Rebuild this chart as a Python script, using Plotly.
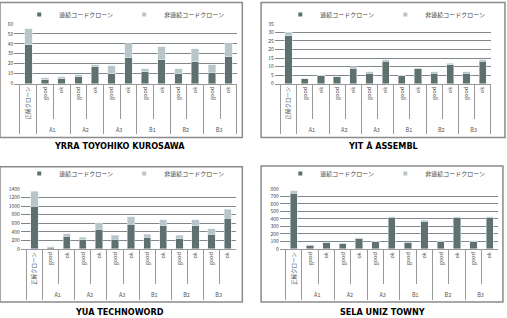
import plotly.graph_objects as go

groups = [" ", "A1", "A1", "A2", "A2", "A3", "A3", "B1", "B1", "B2", "B2", "B3", "B3"]
cats = ["正解クローン", "good", "ok", "good", "ok", "good", "ok", "good", "ok", "good", "ok", "good", "ok"]

series_names = ["連続コードクローン", "非連続コードクローン"]

# panel (a)
cont_a = [39, 4, 5, 7, 17, 10, 26, 12, 24, 10, 22, 11, 27]
total_a = [55, 6, 7, 9, 19, 18, 40, 15, 37, 15, 35, 19, 41]
# panel (b)
cont_b = [28, 3, 5, 4, 9, 6, 13, 5, 9, 6, 11, 6, 13]
total_b = [30, 3, 5, 4, 10, 7, 14, 5, 9, 7, 12, 7, 14]
# panel (c)
cont_c = [990, 45, 300, 215, 460, 223, 577, 277, 538, 238, 546, 346, 715]
total_c = [1340, 55, 360, 277, 608, 315, 746, 346, 685, 315, 685, 477, 930]
# panel (d)
cont_d = [743, 53, 84, 75, 136, 101, 422, 84, 369, 105, 418, 105, 422]
total_d = [774, 55, 88, 78, 150, 105, 430, 90, 382, 108, 426, 108, 430]

titles = ["YRRA TOYOHIKO KUROSAWA", "YIT Å ASSEMBL", "YUA TECHNOWORD", "SELA UNIZ TOWNY"]
y_ranges = [[0, 60], [0, 35], [0, 1400], [0, 800]]
y_dticks = [10, 5, 200, 100]

DARK = "#5f716e"
LIGHT = "#b8c6ca"
GRID = "#7f8a88"

panels = [(cont_a, total_a), (cont_b, total_b), (cont_c, total_c), (cont_d, total_d)]

# layout geometry (paper fractions)
x_domains = [[0.028, 0.467], [0.542, 0.968], [0.041, 0.465], [0.552, 0.982]]
y_domains = [[0.737, 0.925], [0.737, 0.925], [0.217, 0.406], [0.217, 0.406]]
legend_pos = [(0.245, 1.0), (0.76, 1.0), (0.245, 0.5), (0.76, 0.5)]
boxes = [(0.0, 0.478, 0.568, 0.992), (0.515, 0.996, 0.568, 0.992),
         (0.0, 0.478, 0.05, 0.476), (0.515, 0.992, 0.05, 0.478)]
title_pos = [(0.235, 0.541), (0.755, 0.541), (0.235, 0.02), (0.755, 0.02)]

fig = go.Figure()
x = [groups, cats]
for i, (cont, total) in enumerate(panels):
    noncont = [t - c for t, c in zip(total, cont)]
    sfx = "" if i == 0 else str(i + 1)
    leg = "legend" if i == 0 else f"legend{i + 1}"
    fig.add_trace(go.Bar(x=x, y=cont, name=series_names[0], marker_color=DARK,
                         xaxis="x" + sfx, yaxis="y" + sfx, showlegend=False))
    fig.add_trace(go.Bar(x=x, y=noncont, name=series_names[1], marker_color=LIGHT,
                         xaxis="x" + sfx, yaxis="y" + sfx, showlegend=False))
    for name, col in zip(series_names, [DARK, LIGHT]):
        fig.add_trace(go.Scatter(x=[[groups[0]], [cats[0]]], y=[None], mode="markers", name=name,
                                 marker=dict(symbol="square", size=4, color=col),
                                 xaxis="x" + sfx, yaxis="y" + sfx, legend=leg, showlegend=True,
                                 hoverinfo="skip"))

layout = dict(
    width=507, height=318, margin=dict(l=0, r=0, t=0, b=0, autoexpand=False),
    barmode="stack", bargap=0.55,
    paper_bgcolor="white", plot_bgcolor="white",
    font=dict(family="Noto Sans CJK JP, Liberation Sans, sans-serif", size=6, color="#444"),
)
shapes = []
annotations = []
for i in range(4):
    sfx = "" if i == 0 else str(i + 1)
    layout["xaxis" + sfx] = dict(
        domain=x_domains[i], anchor="y" + sfx, type="multicategory",
        tickangle=-90, ticks="outside", ticklen=34, tickcolor="#999",
        showdividers=True, dividercolor="#999", dividerwidth=1,
        showline=True, linecolor="#999", linewidth=1,
        tickfont=dict(size=5.5, color="#555"), showgrid=False,
    )
    layout["yaxis" + sfx] = dict(
        domain=y_domains[i], anchor="x" + sfx, range=y_ranges[i], dtick=y_dticks[i],
        showgrid=True, gridcolor=GRID, gridwidth=1, zeroline=False,
        showline=False, tickfont=dict(size=5, color="#444"), ticks="",
    )
    leg = "legend" if i == 0 else f"legend{i + 1}"
    layout[leg] = dict(
        orientation="h", x=legend_pos[i][0], y=legend_pos[i][1],
        xanchor="center", yanchor="top", font=dict(size=6, color="#444"),
        bgcolor="rgba(0,0,0,0)", itemwidth=30, traceorder="normal",
        entrywidth=60, entrywidthmode="pixels",
    )
    x0, x1, y0, y1 = boxes[i]
    shapes.append(dict(type="rect", xref="paper", yref="paper", x0=x0, x1=x1, y0=y0, y1=y1,
                       line=dict(color="#8a8a8a", width=1.5), layer="below"))
    annotations.append(dict(text="<b>" + titles[i] + "</b>", xref="paper", yref="paper",
                            x=title_pos[i][0], y=title_pos[i][1], showarrow=False,
                            xanchor="center", yanchor="middle",
                            font=dict(family="Liberation Sans Narrow, DejaVu Sans Condensed, sans-serif",
                                      size=9, color="black")))
layout["shapes"] = shapes
layout["annotations"] = annotations
fig.update_layout(**layout)
fig.write_html("out.html")
